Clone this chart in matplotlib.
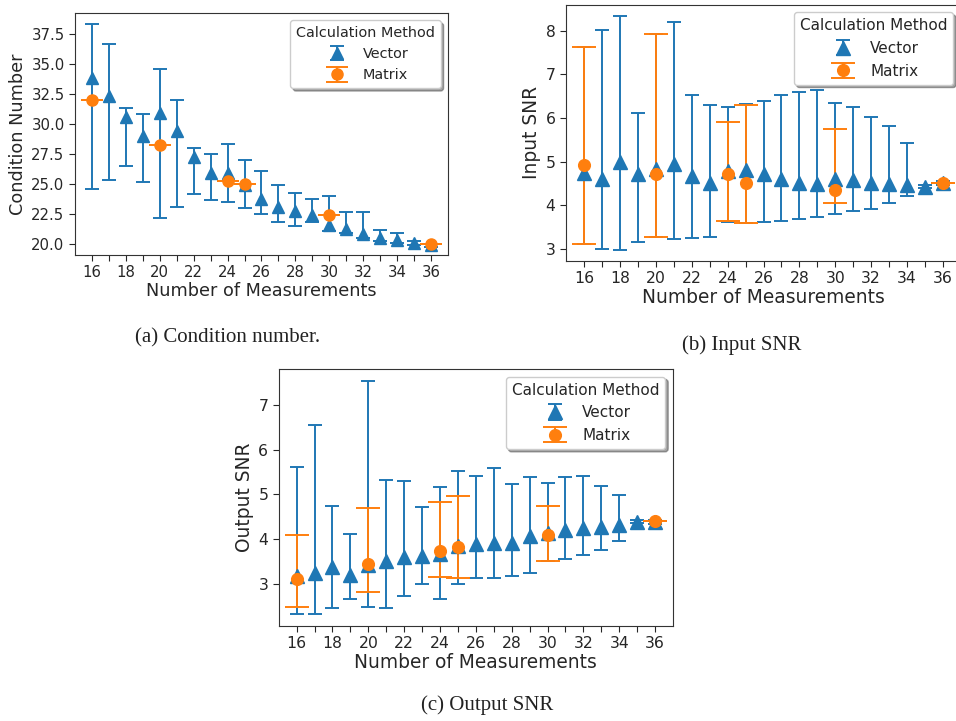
import numpy as np
import matplotlib
matplotlib.use("Agg")
import matplotlib.pyplot as plt

measurements = list(range(16, 37))
matrix_x = [16, 20, 24, 25, 30, 36]

# (a) condition number
cond_vec = [33.9, 32.4, 30.6, 29.05, 30.9, 29.4, 27.25, 25.9, 25.9, 24.9, 23.75, 23.1, 22.8, 22.45, 21.6, 21.25, 20.86, 20.55, 20.35, 20.13, 19.9]
cond_vec_hi = [38.36, 36.67, 31.33, 30.89, 34.61, 32.06, 28.0, 27.56, 28.39, 27.06, 26.14, 24.97, 24.28, 23.78, 24.05, 22.65, 22.72, 21.2, 20.92, 20.3, 20.05]
cond_vec_lo = [24.64, 25.36, 26.56, 25.22, 22.17, 23.11, 24.22, 23.67, 23.56, 23.06, 22.53, 21.89, 21.55, 21.82, 21.1, 20.95, 20.5, 20.3, 20.1, 19.95, 19.75]
cond_mat = [32.0, 28.3, 25.3, 25.0, 22.4, 20.0]
cond_mat_hi = [32.0, 28.3, 25.3, 25.0, 22.4, 20.0]
cond_mat_lo = [32.0, 28.3, 25.3, 25.0, 22.4, 20.0]

# (b) input SNR
in_vec = [4.75, 4.61, 4.98, 4.71, 4.84, 4.94, 4.67, 4.51, 4.79, 4.80, 4.71, 4.61, 4.51, 4.48, 4.61, 4.57, 4.50, 4.48, 4.46, 4.42, 4.50]
in_vec_hi = [7.63, 8.01, 8.33, 6.12, 7.93, 8.21, 6.52, 6.30, 6.25, 6.33, 6.39, 6.53, 6.59, 6.64, 6.34, 6.26, 6.03, 5.82, 5.43, 4.47, 4.55]
in_vec_lo = [3.11, 2.99, 2.98, 3.15, 3.27, 3.23, 3.25, 3.28, 3.62, 3.60, 3.61, 3.64, 3.68, 3.73, 3.80, 3.87, 3.91, 4.06, 4.21, 4.40, 4.47]
in_mat = [4.93, 4.72, 4.71, 4.51, 4.34, 4.52]
in_mat_hi = [7.63, 7.93, 5.91, 6.31, 5.74, 4.52]
in_mat_lo = [3.11, 3.27, 3.63, 3.60, 4.06, 4.52]

# (c) output SNR
out_vec = [3.17, 3.23, 3.38, 3.20, 3.42, 3.50, 3.59, 3.63, 3.66, 3.85, 3.88, 3.90, 3.92, 4.07, 4.13, 4.20, 4.24, 4.28, 4.31, 4.39, 4.37]
out_vec_hi = [5.62, 6.55, 4.75, 4.11, 7.55, 5.33, 5.29, 4.72, 5.17, 5.53, 5.41, 5.59, 5.24, 5.40, 5.25, 5.40, 5.41, 5.19, 4.98, 4.43, 4.42]
out_vec_lo = [2.32, 2.33, 2.45, 2.66, 2.48, 2.45, 2.73, 2.99, 2.65, 2.99, 3.12, 3.13, 3.17, 3.23, 3.51, 3.55, 3.65, 3.76, 3.96, 4.35, 4.33]
out_mat = [3.10, 3.45, 3.73, 3.81, 4.08, 4.40]
out_mat_hi = [4.09, 4.70, 4.82, 4.97, 4.75, 4.40]
out_mat_lo = [2.47, 2.81, 3.15, 3.13, 3.51, 4.40]

text_color = "#262626"
plt.rcParams["text.color"] = text_color
plt.rcParams["axes.labelcolor"] = text_color
plt.rcParams["xtick.color"] = text_color
plt.rcParams["ytick.color"] = text_color
plt.rcParams["axes.edgecolor"] = "#333333"


def panel(ax, vec, vhi, vlo, mat, mhi, mlo, ylabel, ylim, yticks, yfmt, scale):
    vec = np.array(vec)
    mat = np.array(mat)
    ax.errorbar(measurements, vec, yerr=[vec - np.array(vlo), np.array(vhi) - vec],
                fmt="^", ms=9 * scale, capsize=5 * scale, elinewidth=1.4, capthick=1.4,
                color="C0", label="Vector")
    ax.errorbar(matrix_x, mat, yerr=[mat - np.array(mlo), np.array(mhi) - mat],
                fmt="o", ms=8 * scale, capsize=8 * scale, elinewidth=1.4, capthick=1.4,
                color="C1", label="Matrix")
    ax.set_xlim(15, 37)
    ax.set_ylim(*ylim)
    ax.set_xticks(measurements)
    ax.set_xticklabels([str(m) if m % 2 == 0 else "" for m in measurements])
    ax.set_yticks(yticks)
    ax.set_yticklabels([yfmt.format(t) for t in yticks])
    ax.tick_params(labelsize=10.7 * scale, length=4)
    ax.set_xlabel("Number of Measurements", fontsize=12.7 * scale, labelpad=1)
    ax.set_ylabel(ylabel, fontsize=12.7 * scale, labelpad=3)
    ax.legend(title="Calculation Method", loc="upper right", shadow=True,
              fontsize=10.4 * scale, title_fontsize=10.4 * scale)


fig = plt.figure(figsize=(9.56, 7.21), dpi=100)
W, H = 956, 721

ax_a = fig.add_axes([75 / W, 1 - 255 / H, 373 / W, 242 / H])
panel(ax_a, cond_vec, cond_vec_hi, cond_vec_lo, cond_mat, cond_mat_hi, cond_mat_lo,
      "Condition Number", (19.1, 39.28), [20.0, 22.5, 25.0, 27.5, 30.0, 32.5, 35.0, 37.5], "{:.1f}", 1.0)

ax_b = fig.add_axes([566 / W, 1 - 261 / H, 395 / W, 256.3 / H])
panel(ax_b, in_vec, in_vec_hi, in_vec_lo, in_mat, in_mat_hi, in_mat_lo,
      "Input SNR", (2.72, 8.6), [3, 4, 5, 6, 7, 8], "{:d}", 1.055)

ax_c = fig.add_axes([278.7 / W, 1 - 626 / H, 394.3 / W, 257 / H])
panel(ax_c, out_vec, out_vec_hi, out_vec_lo, out_mat, out_mat_hi, out_mat_lo,
      "Output SNR", (2.05, 7.81), [3, 4, 5, 6, 7], "{:d}", 1.055)

cap = dict(family="Liberation Serif", fontsize=15, ha="center", va="center", color="#222222")
fig.text(228 / W, 1 - 338 / H, "(a) Condition number.", **cap)
fig.text(742 / W, 1 - 345 / H, "(b) Input SNR", **cap)
fig.text(487 / W, 1 - 705 / H, "(c) Output SNR", **cap)

fig.savefig("out.png", dpi=100)
